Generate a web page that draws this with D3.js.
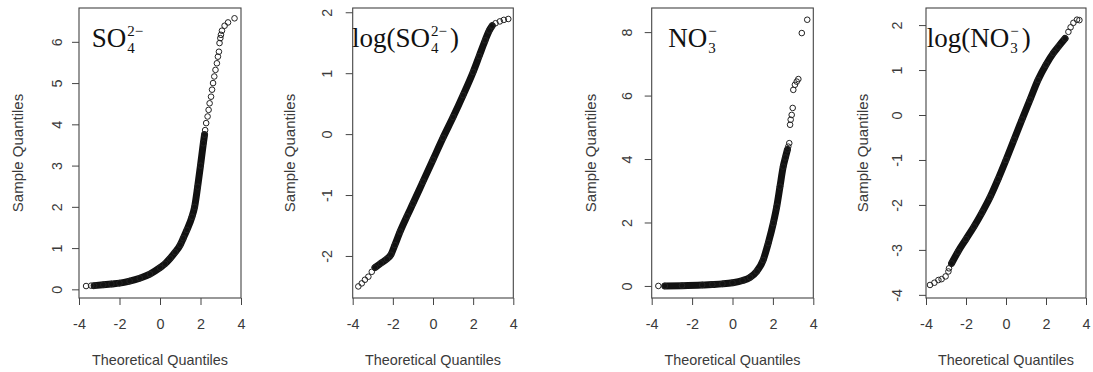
<!DOCTYPE html>
<html>
<head>
<meta charset="utf-8">
<script src="https://cdn.jsdelivr.net/npm/d3@7"></script>
<style>
  body { margin: 0; background: #fff; }
  text { font-family: "Liberation Sans", Arial, sans-serif; fill: #3a3a3a; }
</style>
</head>
<body>
<div id="chart"></div>
<script>
// tick values
const xTicks = [-4, -2, 0, 2, 4];
const so4Ticks = [0, 1, 2, 3, 4, 5, 6];
const logSo4Ticks = [-2, -1, 0, 1, 2];
const no3Ticks = [0, 2, 4, 6, 8];
const logNo3Ticks = [-4, -3, -2, -1, 0, 1, 2];

// [theoretical, sample]
// "band" = run where the markers overlap into a solid line, "tail" = single markers
const so4Tail = [[-3.65, 0.08], [-3.40, 0.09],
  [2.23, 3.86], [2.28, 4.03], [2.35, 4.19], [2.40, 4.35], [2.45, 4.51], [2.52, 4.67],
  [2.57, 4.84], [2.62, 5.00], [2.68, 5.16], [2.74, 5.32], [2.81, 5.48], [2.86, 5.64],
  [2.91, 5.76], [2.94, 5.97], [2.98, 6.09], [3.01, 6.17], [3.06, 6.27], [3.19, 6.39],
  [3.36, 6.47], [3.68, 6.57]];
const so4Band = [[-3.25, 0.09], [-2.8, 0.11], [-2.4, 0.13], [-2.0, 0.15], [-1.5, 0.2],
  [-1.0, 0.27], [-0.5, 0.37], [0, 0.525], [0.25, 0.62], [0.5, 0.75], [0.75, 0.9],
  [1.0, 1.08], [1.15, 1.24], [1.33, 1.44], [1.58, 1.76], [1.71, 2.0], [1.86, 2.49],
  [2.0, 3.0], [2.14, 3.54], [2.2, 3.75]];

const logSo4Tail = [[-3.72, -2.50], [-3.55, -2.45], [-3.39, -2.39], [-3.22, -2.34], [-3.05, -2.26],
  [3.115, 1.82], [3.33, 1.85], [3.53, 1.875], [3.75, 1.89]];
const logSo4Band = [[-2.89, -2.19], [-2.6, -2.12], [-2.3, -2.05], [-2.1, -1.98], [-1.9, -1.82],
  [-1.64, -1.60], [-1.3, -1.35], [-1.0, -1.14], [-0.5, -0.78], [0, -0.42], [0.5, -0.06],
  [1.0, 0.28], [1.5, 0.64], [2.0, 1.02], [2.3, 1.28], [2.6, 1.54], [2.8, 1.70], [2.95, 1.78]];

const no3Tail = [[-3.67, 0.0],
  [2.76, 4.39], [2.81, 4.50], [2.85, 5.08], [2.88, 5.24], [2.93, 5.39], [2.98, 5.61],
  [3.01, 6.18], [3.09, 6.34], [3.18, 6.44], [3.26, 6.52], [3.43, 7.97], [3.70, 8.39]];
const no3Band = [[-3.35, 0.0], [-2.5, 0.01], [-1.5, 0.03], [-1.0, 0.045], [-0.5, 0.065],
  [0, 0.1], [0.5, 0.17], [0.87, 0.27], [1.2, 0.46], [1.52, 0.82], [1.77, 1.35],
  [2.02, 1.98], [2.19, 2.5], [2.35, 3.13], [2.51, 3.76], [2.62, 4.05], [2.72, 4.3]];

const logNo3Tail = [[-3.8, -3.78], [-3.58, -3.73], [-3.38, -3.67], [-3.22, -3.65], [-3.02, -3.59],
  [-2.88, -3.48], [-2.85, -3.41],
  [3.12, 1.85], [3.23, 1.95], [3.37, 2.05], [3.55, 2.12], [3.67, 2.11]];
const logNo3Band = [[-2.72, -3.30], [-2.4, -3.04], [-2.0, -2.76], [-1.6, -2.48], [-1.2, -2.17],
  [-0.8, -1.83], [-0.4, -1.43], [0, -1.0], [0.4, -0.55], [0.8, -0.1], [1.2, 0.34],
  [1.6, 0.78], [2.0, 1.12], [2.37, 1.38], [2.62, 1.52], [2.95, 1.70]];

const panels = [
  { left: 79, right: 241, yDomain: [-0.21, 6.82], yTicks: so4Ticks, band: so4Band, tail: so4Tail,
    labelGap: 17, titleGap: 61, name: { pre: "SO", sup: "2\u2212", sub: "4", post: "" }, nameX: 91.7 },
  { left: 352.7, right: 513.3, yDomain: [-2.69, 2.07], yTicks: logSo4Ticks, band: logSo4Band, tail: logSo4Tail,
    labelGap: 21, titleGap: 63, name: { pre: "log(SO", sup: "2\u2212", sub: "4", post: ")" }, nameX: 352 },
  { left: 651.7, right: 813.3, yDomain: [-0.38, 8.76], yTicks: no3Ticks, band: no3Band, tail: no3Tail,
    labelGap: 20, titleGap: 61, name: { pre: "NO", sup: "\u2212", sub: "3", post: "" }, nameX: 668.3 },
  { left: 926, right: 1086, yDomain: [-4.07, 2.38], yTicks: logNo3Ticks, band: logNo3Band, tail: logNo3Tail,
    labelGap: 24, titleGap: 63, name: { pre: "log(NO", sup: "\u2212", sub: "3", post: ")" }, nameX: 926.7 }
];

const width = 1093, height = 372;
const plotTop = 8, plotBottom = 298, tickLen = 7;

const svg = d3.select("#chart").append("svg")
  .attr("width", width)
  .attr("height", height);

const fmt = d => d < 0 ? "-" + Math.abs(d) : String(d);

panels.forEach(p => {
  const x = d3.scaleLinear().domain([-4, 4]).range([p.left, p.right]);
  const y = d3.scaleLinear().domain(p.yDomain).range([plotBottom, plotTop]);
  const g = svg.append("g");

  // x axis
  const xAxis = g.append("g")
    .attr("transform", `translate(0,${plotBottom})`)
    .call(d3.axisBottom(x).tickValues(xTicks).tickSize(tickLen).tickSizeOuter(0).tickPadding(14)
      .tickFormat(fmt));
  xAxis.select(".domain").remove();
  xAxis.selectAll("line").attr("stroke", "#444");
  xAxis.selectAll("text").style("font-size", "14.4px").attr("fill", "#3a3a3a");

  // y axis, labels parallel to the axis like base R
  const yAxis = g.append("g")
    .attr("transform", `translate(${p.left},0)`)
    .call(d3.axisLeft(y).tickValues(p.yTicks).tickSize(tickLen).tickSizeOuter(0).tickFormat(fmt));
  yAxis.select(".domain").remove();
  yAxis.selectAll("line").attr("stroke", "#444");
  yAxis.selectAll("text")
    .style("font-size", "14.4px").attr("fill", "#3a3a3a")
    .attr("x", null).attr("dy", null)
    .attr("text-anchor", "middle")
    .attr("transform", `translate(${-p.labelGap},0) rotate(-90)`);

  // box
  g.append("rect")
    .attr("x", p.left).attr("y", plotTop)
    .attr("width", p.right - p.left).attr("height", plotBottom - plotTop)
    .attr("fill", "none").attr("stroke", "#444").attr("stroke-width", 1.1);

  // axis titles
  g.append("text")
    .attr("x", (p.left + p.right) / 2).attr("y", 365)
    .attr("text-anchor", "middle").style("font-size", "14.4px")
    .text("Theoretical Quantiles");
  g.append("text")
    .attr("transform", `translate(${p.left - p.titleGap + 5},${(plotTop + plotBottom) / 2}) rotate(-90)`)
    .attr("text-anchor", "middle").style("font-size", "15px")
    .text("Sample Quantiles");

  // dense run of overlapping markers
  g.append("path")
    .datum(p.band)
    .attr("fill", "none")
    .attr("stroke", "#111")
    .attr("stroke-width", 7)
    .attr("stroke-linecap", "round")
    .attr("stroke-linejoin", "round")
    .attr("d", d3.line().x(d => x(d[0])).y(d => y(d[1])).curve(d3.curveMonotoneX));

  // markers
  g.append("g").selectAll("circle")
    .data(p.band.concat(p.tail))
    .enter()
    .append("circle")
    .attr("cx", d => x(d[0]))
    .attr("cy", d => y(d[1]))
    .attr("r", 2.8)
    .attr("fill", "none")
    .attr("stroke", "#222")
    .attr("stroke-width", 1);

  // panel name in math style, stacked super/subscript
  const font = "'Liberation Serif', 'DejaVu Serif', serif";
  const base = 47;
  const nm = g.append("text")
    .attr("x", p.nameX).attr("y", base)
    .style("font-family", font).style("font-size", "27px").style("fill", "#111")
    .text(p.name.pre);
  const preEnd = p.nameX + nm.node().getComputedTextLength();
  const sup = g.append("text")
    .attr("x", preEnd + 1).attr("y", base - 11)
    .style("font-family", font).style("font-size", "15px").style("fill", "#111")
    .text(p.name.sup);
  const sub = g.append("text")
    .attr("x", preEnd + 1).attr("y", base + 5.6)
    .style("font-family", font).style("font-size", "15px").style("fill", "#111")
    .text(p.name.sub);
  const scriptEnd = preEnd + 1 + Math.max(sup.node().getComputedTextLength(), sub.node().getComputedTextLength());
  if (p.name.post) {
    g.append("text")
      .attr("x", scriptEnd + 3).attr("y", base)
      .style("font-family", font).style("font-size", "27px").style("fill", "#111")
      .text(p.name.post);
  }
});
</script>
</body>
</html>
